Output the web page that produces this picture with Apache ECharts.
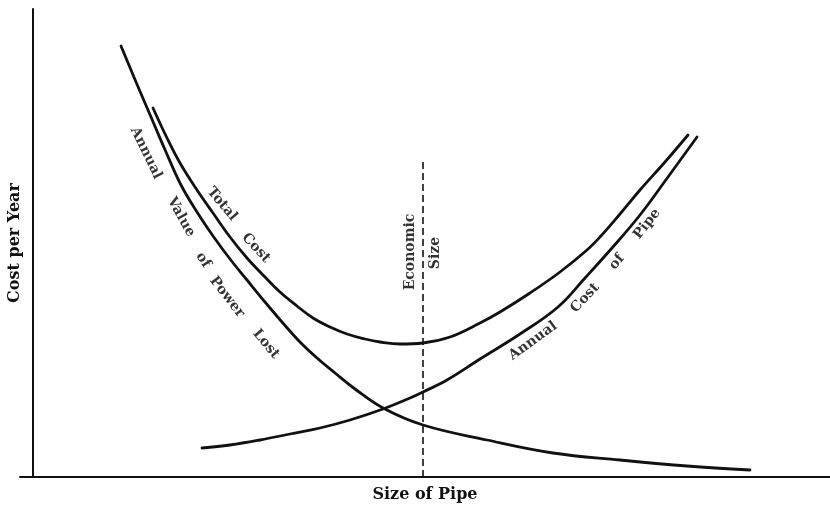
<!DOCTYPE html>
<html>
<head>
<meta charset="utf-8">
<script src="https://cdn.jsdelivr.net/npm/echarts@6/dist/echarts.min.js"></script>
<style>
html,body{margin:0;padding:0;background:#fff;}
#chart{width:830px;height:505px;}
</style>
</head>
<body>
<div id="chart"></div>
<script>
// Values (arbitrary units: size of pipe, cost per year)
const powerLostX = [8.8, 10.3, 11.8, 13.3, 14.8, 16.4, 18.0, 19.7, 21.4, 23.2, 24.9, 26.7, 28.4, 30.2, 32.2, 35.0, 39.0, 45.4, 52.0, 58.7, 65.4, 71.7];
const powerLostY = [43.1, 39.5, 36.0, 32.5, 29.2, 26.5, 24.1, 21.8, 19.7, 17.5, 15.5, 13.5, 11.9, 10.4, 8.8, 6.9, 5.2, 3.7, 2.4, 1.7, 1.1, 0.7];

const totalCostX = [12.0, 13.4, 14.7, 16.4, 18.0, 19.7, 21.4, 23.1, 24.7, 26.4, 28.0, 29.7, 31.4, 33.2, 34.7, 36.7, 39.0, 41.7, 44.7, 46.7, 49.7, 52.7, 55.4, 56.7, 58.7, 60.7, 63.2, 65.5];
const totalCostY = [36.9, 33.9, 31.4, 28.7, 26.4, 24.0, 21.9, 20.1, 18.5, 17.1, 15.9, 15.0, 14.3, 13.8, 13.5, 13.3, 13.4, 14.0, 15.4, 16.5, 18.4, 20.5, 22.7, 24.0, 26.3, 28.7, 31.5, 34.2];

const pipeCostX = [16.9, 19.7, 22.7, 25.7, 28.7, 31.7, 35.0, 37.7, 39.0, 41.4, 44.7, 48.7, 52.5, 55.2, 57.9, 60.7, 63.5, 66.4];
const pipeCostY = [2.9, 3.2, 3.7, 4.3, 4.9, 5.7, 6.8, 7.9, 8.5, 9.7, 11.8, 14.3, 17.0, 19.9, 22.9, 26.2, 30.0, 34.0];

const economicSize = 39.0;
const economicLineTop = 31.9;

const axisTitleX = 'Size of Pipe';
const axisTitleY = 'Cost per Year';

// Curve annotations: word, anchor (data units), rotation
const annotations = [
  {t:'Annual', x:11.3, y:32.4, r:-64},
  {t:'Value',  x:14.8, y:26.0, r:-61},
  {t:'of',     x:17.0, y:21.7, r:-56},
  {t:'Power',  x:19.4, y:18.0, r:-52},
  {t:'Lost',   x:23.3, y:13.3, r:-50},
  {t:'Total',  x:18.9, y:27.3, r:-50},
  {t:'Cost',   x:22.3, y:22.9, r:-47},
  {t:'Economic', x:37.7, y:22.5, r:90},
  {t:'Size',   x:40.2, y:22.4, r:90},
  {t:'Annual', x:50.0, y:13.6, r:36},
  {t:'Cost',   x:55.2, y:17.9, r:47},
  {t:'of',     x:58.4, y:21.5, r:50},
  {t:'Pipe',   x:61.4, y:25.3, r:52}
];

const zip = (xs, ys) => xs.map((x, i) => [x, ys[i]]);
const FONT = '"DejaVu Serif", "Liberation Serif", serif';
const INK = '#111';

const curve = (name, data) => ({
  name, type: 'line', data, smooth: 0.4, symbol: 'none',
  lineStyle: {color: INK, width: 2.8, cap: 'round'},
  silent: true, animation: false
});

const chart = echarts.init(document.getElementById('chart'), null, {renderer: 'canvas'});
chart.setOption({
  backgroundColor: '#fff',
  animation: false,
  grid: {left: 20, right: 0, top: 9, bottom: 28, containLabel: false, outerBoundsMode: 'none'},
  xAxis: {
    type: 'value', min: -1.3, max: 79.7,
    name: axisTitleX, nameLocation: 'middle', nameGap: 10,
    nameTextStyle: {fontFamily: FONT, fontWeight: 'bold', fontSize: 16, color: INK},
    axisLine: {show: true, lineStyle: {color: INK, width: 2}},
    axisTick: {show: false}, axisLabel: {show: false}, splitLine: {show: false}
  },
  yAxis: {
    type: 'value', min: 0, max: 46.8,
    name: axisTitleY, nameLocation: 'middle', nameGap: -3, nameRotate: 90,
    nameTextStyle: {fontFamily: FONT, fontWeight: 'bold', fontSize: 16, color: INK},
    axisLine: {show: true, onZero: true, lineStyle: {color: INK, width: 2}},
    axisTick: {show: false}, axisLabel: {show: false}, splitLine: {show: false}
  },
  series: [
    curve('Annual Value of Power Lost', zip(powerLostX, powerLostY)),
    curve('Total Cost', zip(totalCostX, totalCostY)),
    curve('Annual Cost of Pipe', zip(pipeCostX, pipeCostY)),
    {
      name: 'Economic Size', type: 'line', symbol: 'none', silent: true,
      data: [[economicSize, 0], [economicSize, economicLineTop]],
      lineStyle: {color: INK, width: 1.6, type: [7, 4]}
    },
    {
      name: 'labels', type: 'scatter', symbolSize: 0, silent: true,
      data: annotations.map(a => ({
        value: [a.x, a.y],
        label: {show: true, position: 'inside', formatter: a.t, rotate: a.r,
                fontFamily: FONT, fontWeight: 'bold', fontSize: 14, color: '#000'}
      }))
    }
  ]
});
</script>
</body>
</html>
